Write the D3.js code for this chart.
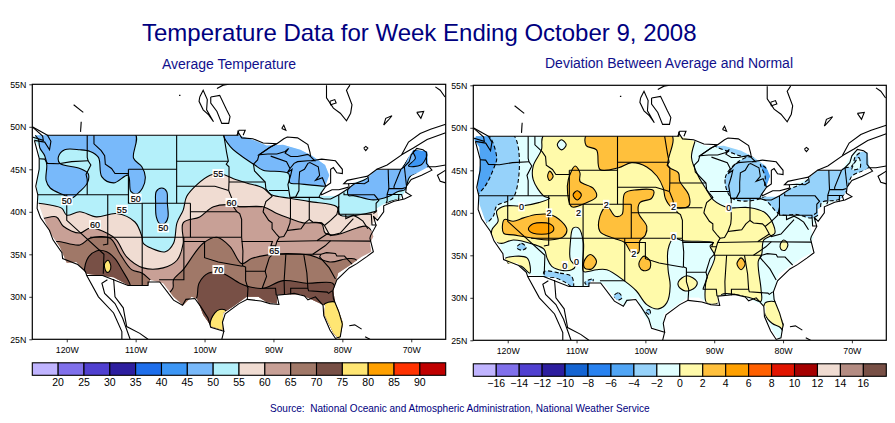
<!DOCTYPE html>
<html><head><meta charset="utf-8">
<script src="https://cdn.jsdelivr.net/npm/d3@7"></script>
<style>html,body{margin:0;padding:0;background:#fff}svg{display:block}text{font-family:"Liberation Sans",Arial,sans-serif}</style>
</head><body><svg id="c" width="895" height="423"></svg>
<script>
// ---------- axis / legend data
const lonTicks=[-120,-110,-100,-90,-80,-70];
const latTicks=[25,30,35,40,45,50,55];
const tempLevels=[20,25,30,35,40,45,50,55,60,65,70,75,80,85,90];
const tempColors=["#c0b4ff","#8070eb","#5040d0","#2d1e9f","#1e6eeb","#3c96f5","#78b9fa","#b4f0fa","#f0dcd2","#c8a096","#a07868","#785046","#ffe673","#ffa000","#ff3200","#c00000"];
const devLevels=[-16,-14,-12,-10,-8,-6,-4,-2,0,2,4,6,8,10,12,14,16];
const devColors=["#c0b4ff","#8070eb","#5040d0","#2d1e9f","#1464d2","#2882f0","#50a5f5","#96d2fa","#e1ffff","#fffaaa","#ffc03c","#ffa000","#ff6000","#e11400","#a50000","#f0dcd2","#b48c82","#785046"];
// ---------- geography (lon,lat)
const usMask=[[-124.6,49],[-122.6,49],[-95.1,49],[-92.7,48.4],[-91,47.8],[-88.6,47.9],[-86.1,47.3],[-84.4,46.6],[-82.5,45.5],[-81.9,44.3],[-82.5,43],[-83.2,41.9],[-80.6,41.9],[-79.1,42.8],[-78.4,43.4],[-76.2,44.1],[-75.2,44.9],[-71.5,45],[-69.7,47.3],[-67.7,47.1],[-67.5,45.3],[-70,44.2],[-71,42.2],[-71.6,41.6],[-74,40.9],[-75,40.4],[-74.8,39.4],[-76,38.3],[-75.5,37.1],[-76,36.3],[-75.8,35.3],[-77.2,34.7],[-78.9,33.7],[-80.6,32.8],[-81.3,30.8],[-81.1,29.4],[-80.6,28.5],[-79.9,26.9],[-80.4,25],[-81.3,25.7],[-82,26.9],[-82.6,27.9],[-82.5,29],[-83.2,29.2],[-86.1,30.3],[-89.5,30.3],[-89.5,29.2],[-91,29.4],[-92.2,30],[-93.9,30],[-95.8,28.9],[-97.3,28.1],[-97.4,26.1],[-99,26.5],[-100.2,27.9],[-101.1,29.8],[-101.9,30],[-103.1,29],[-104.5,30],[-106,31.6],[-107.9,32],[-108.2,31.4],[-111.1,31.4],[-113.2,32.3],[-117.1,32.7],[-118.6,34.1],[-120,34],[-121,35.9],[-122.4,37.5],[-123.4,39.4],[-124.1,41],[-124.4,43.4],[-124,45.7],[-124.1,47.7],[-124.85,48.6]];
const usCoast=[[-124.7,48.4],[-123.2,48.2],[-122.5,47.3],[-122.3,48.3],[-122.8,49],[-95.15,49],[-95.15,49.4],[-94.6,48.7],[-93,48.6],[-91.5,48.1],[-89.6,48],[-90.5,47.6],[-92.1,46.7],[-90.8,46.8],[-89.5,46.8],[-88.3,47.1],[-87.8,47.45],[-88.3,46.9],[-87.5,46.5],[-86.5,46.5],[-85,46.75],[-84.6,46.5],[-84,46],[-85,46],[-86.5,45.9],[-87,45.7],[-87.6,45.1],[-88,44.6],[-87.3,45],[-87.5,44.3],[-87.9,43.2],[-87.6,41.7],[-86.8,41.7],[-86.3,42.5],[-86.3,43.6],[-86.2,44.7],[-85.5,45],[-85,45.7],[-84.7,45.8],[-83.5,45.3],[-83.3,44.3],[-83.9,43.7],[-82.9,44],[-82.4,43],[-83.1,42.2],[-83.4,41.7],[-82.7,41.5],[-81.7,41.5],[-80.5,42],[-79,42.8],[-79.1,43.3],[-78,43.35],[-76.8,43.3],[-76.2,43.6],[-76.3,44.2],[-75,45],[-71.5,45],[-71,45.3],[-70.3,45.9],[-70,46.7],[-69.2,47.45],[-68.3,47.3],[-67.8,47],[-67.8,45.7],[-67,44.9],[-68.5,44.3],[-70,43.8],[-70.7,43],[-70.8,42.3],[-70,41.9],[-71,41.5],[-72.5,41.25],[-74,40.7],[-74,40],[-74.9,39],[-75.5,39.5],[-75.1,38.4],[-75.9,37.2],[-76,36.9],[-75.5,35.3],[-76.5,34.7],[-77.9,33.9],[-79,33.4],[-80.8,32],[-81.4,30.7],[-81.3,29.8],[-80.5,28.2],[-80,26.8],[-80.3,25.3],[-81,25.1],[-81.8,26.1],[-82.7,27.8],[-82.8,29],[-83.9,30],[-85,29.65],[-85.5,30.1],[-87,30.4],[-88,30.3],[-89.5,30.2],[-89.2,29.1],[-90.5,29.2],[-91.8,29.5],[-93.8,29.7],[-95,29.2],[-97,28],[-97.4,27],[-97.2,25.95],[-99.1,26.4],[-99.5,27.5],[-100.6,28.9],[-101.4,29.8],[-102.7,29.7],[-103.2,29],[-104.5,29.6],[-106.5,31.75],[-108.2,31.75],[-108.2,31.33],[-111.1,31.33],[-114.8,32.5],[-117.1,32.5],[-117.3,33],[-118.4,33.8],[-120.6,34.5],[-120.7,35.2],[-122,36.7],[-122.5,37.8],[-123.8,39.3],[-124.3,40.4],[-124.2,42],[-124.5,43],[-124,45],[-124,46.3],[-124.7,48.4]];
const otherCoast=[
[[-92.1,46.7],[-90.5,47.6],[-89.5,48],[-88.5,48.6],[-88,48.8],[-86.5,48.7],[-85,47.9],[-84.7,47],[-84.6,46.5]],
[[-82.4,43],[-81.7,43.4],[-81.7,45],[-81.3,45.2],[-80.8,44.6],[-80,44.5],[-80,45],[-81,46],[-83,46.2],[-84.5,46]],
[[-83.1,42.2],[-83,42],[-81.5,42.6],[-80.5,42.6],[-79.1,42.9]],
[[-79.1,43.3],[-79.8,43.3],[-79.3,43.7],[-77.5,44],[-76.3,44.2]],
[[-75,45],[-73.5,45.5],[-71.4,46.7],[-70.4,48.2],[-68.7,49.2],[-67.2,49.7],[-65,50.3]],
[[-71.4,46.7],[-69.7,47.5],[-67.7,48.5],[-65,49.3]],
[[-67.7,45.3],[-66.5,45.3],[-65,45.5]],[[-65,44.9],[-66.2,44.3],[-65.8,43.6],[-65,43.4]],
[[-125,48.8],[-123.4,48.4],[-123.5,48.9],[-125,50]],[[-122.8,49],[-123.9,49.5],[-125,50]],
[[-119,52.6],[-117.6,51.7]],[[-117.9,50.6],[-118,49.4]],[[-103.7,53.7],[-103.5,53.7]],
[[-99.1,53.5],[-97.8,53.7],[-96.8,52],[-96.3,51.2],[-96.5,50.4],[-97.5,50.4],[-98.2,51.8],[-99.1,52.8],[-99.1,53.5]],
[[-100.7,53.5],[-100.2,54.3],[-99.6,53.2],[-99.7,52],[-98.7,50.6],[-99.4,51.4],[-100.2,52],[-100.8,53],[-100.7,53.5]],
[[-98.2,54.5],[-97.3,54.9],[-96.5,55]],
[[-82.3,54.9],[-82.3,53.4],[-81.3,52.2],[-80.3,51.6],[-79.4,50.7],[-78.8,51.6],[-78.6,52.6],[-79.4,54.3],[-78.9,54.9]],
[[-81.8,53],[-81.1,53.2],[-80.9,52.8],[-81.7,52.6],[-81.8,53]],
[[-88.8,49.8],[-88.5,50.2],[-88.2,49.6],[-88.8,49.8]],
[[-95.3,49],[-95,49.6],[-94.1,49.6],[-94.4,49]],
[[-76.9,47.5],[-76.6,47.7],[-76.3,47.5],[-76.6,47.2],[-76.9,47.5]],
[[-74,50.2],[-73.7,51],[-72.8,51.3],[-73.3,50.8],[-74,50.2]],
[[-69.2,51.7],[-68.2,51.8],[-68.6,51],[-69.2,51.7]],
[[-66.5,54.7],[-65.8,54.3],[-65.1,53.5]],
[[-117.1,32.5],[-115.4,30],[-113.2,28.1],[-112,25.9],[-112,25]],
[[-114.1,32],[-114.9,31.6],[-114.5,30.4],[-113,29.2],[-111.9,27.5],[-110.8,25]],
[[-113.2,32.1],[-113,30],[-111.8,28.7],[-111.3,26.5],[-109.4,25.7],[-108.2,25]],
[[-97.2,25.95],[-97.5,25]],[[-79,26.6],[-78.2,26.7],[-77.2,26.2]],[[-76.7,25.3],[-76,25]]
];
const stateLines=[
[[-124,46.25],[-123.2,46.2],[-122.8,45.7],[-121.2,45.65],[-119.3,45.9],[-116.9,46]],
[[-117.03,49],[-117.03,46.4],[-116.9,46],[-116.5,45.5],[-117.2,44.4],[-117.03,43.8],[-117.03,42]],
[[-124.2,42],[-111.05,42]],[[-120,42],[-120,39],[-114.6,35],[-114.7,32.7]],
[[-114.05,42],[-114.05,36.2],[-114.75,36.1]],
[[-116.05,49],[-116.05,48],[-115,47.2],[-114.5,46.6],[-114.4,45.6],[-113.5,45.1],[-113,44.5],[-111.05,44.5]],
[[-111.05,45],[-104.05,45]],[[-111.05,45],[-111.05,41],[-102.05,41]],[[-109.05,41],[-109.05,31.33]],
[[-116.6,37],[-94.62,37]],[[-104.05,49],[-104.05,41]],[[-104.05,45.95],[-96.55,45.95]],
[[-104.05,43],[-98.5,43],[-96.5,42.5]],[[-102.05,41],[-102.05,37]],[[-102.05,40],[-95.3,40]],
[[-103,37],[-103,32],[-106.6,32]],[[-103,36.5],[-100,36.5],[-100,34.6],[-98,34.1],[-96,33.8],[-94.5,33.6]],
[[-94.62,37],[-94.43,35.4],[-94.48,33.64],[-94.04,33.5],[-94.04,31.9],[-93.7,31],[-93.8,29.7]],
[[-94.04,33],[-91.15,33]],
[[-96.5,42.5],[-96,41.5],[-95.8,40.6],[-95.3,40],[-94.9,39.8],[-94.62,39.1],[-94.62,37]],
[[-97.2,49],[-96.8,47],[-96.55,45.95],[-96.85,45.6],[-96.45,45.3],[-96.45,43.5],[-96.5,42.5]],
[[-96.45,43.5],[-91.2,43.5]],[[-95.8,40.6],[-91.7,40.6]],
[[-92.1,46.7],[-92.3,46.1],[-92.9,45.6],[-92.75,44.8],[-91.2,43.5],[-91.1,42.7],[-90.2,41.8],[-91.1,41.2],[-91.4,40.4],[-91.5,40],[-90.7,39],[-90.2,38.7],[-90.2,38],[-89.5,37.3],[-89.15,37],[-89.5,36.5],[-90,35.1],[-90.6,34.6],[-91.1,33.3],[-91.2,33],[-91,32.4],[-91.6,31.1],[-91.6,31],[-89.7,31],[-89.6,30.2]],
[[-90.65,42.5],[-87.8,42.5]],[[-90.4,46.55],[-88.1,45.9],[-87.6,45.1]],
[[-87.53,41.7],[-87.53,39.3],[-87.6,38.7],[-88,37.8]],
[[-89.15,37],[-88.5,37.1],[-88,37.8],[-87,37.9],[-86,38],[-85.4,38.7],[-84.8,39.1],[-84.3,38.8],[-83,38.7],[-82.6,38.4],[-81.7,39],[-80.8,39.7],[-80.52,40.64],[-80.52,42]],
[[-84.8,39.1],[-84.8,41.7]],[[-87.2,41.7],[-83.4,41.7]],
[[-79.76,42.27],[-79.76,42],[-75.35,42],[-74.7,41.35],[-75.1,41],[-75.1,40],[-75.5,39.8]],
[[-80.52,40.64],[-80.52,39.72],[-75.8,39.72],[-75.7,38.45],[-75.05,38.45]],
[[-79.5,39.72],[-79.5,39.2],[-78.4,39.6],[-77.7,39.3],[-77,38.9],[-76.3,38]],
[[-82.6,38.4],[-82,37.5],[-81.7,37.2],[-80.3,37.5],[-79.3,38.4],[-78.4,39.2]],
[[-82,37.5],[-83.7,36.6]],[[-83.7,36.6],[-75.9,36.55]],[[-94.62,36.5],[-90.15,36.5],[-90.37,36],[-89.7,36]],
[[-89.5,36.5],[-83.7,36.6]],[[-81.7,36.6],[-82.5,36],[-84.3,35]],[[-90,35],[-83.1,35]],
[[-88.2,35],[-88.45,31.9],[-88.4,30.3]],[[-85.6,35],[-85.15,32.8],[-85,31],[-84.9,30.7],[-82.2,30.55],[-82,30.4],[-81.5,30.7]],
[[-87.5,30.3],[-87.5,31],[-85,31]],
[[-83.1,35],[-83.3,34.7],[-81.9,33.4],[-81,32.1]],[[-83.1,35],[-82.3,35.2],[-81,35.1],[-80.8,34.8],[-79.7,34.8],[-78.6,33.85]],
[[-73.35,45],[-73.3,43.6],[-73.25,42.75],[-73.5,42.05],[-73.5,41.3],[-73.65,41]],
[[-73.25,42.73],[-71.3,42.73],[-70.8,42.85]],[[-73.5,42.03],[-71.4,42.03],[-71.2,41.5]],[[-71.8,42],[-71.85,41.3]],
[[-71.5,45],[-72.5,43],[-72.5,42.73]],[[-71,45.3],[-70.7,43.1]]
];
// ---------- left panel: average temperature regions (level index into tempColors)
const t45West=[[-124.6,49.2],[-110.1,49.2],[-110.3,46.3],[-109.1,45.3],[-108.6,44.1],[-109,42.8],[-109.9,42.1],[-110.7,42.4],[-111.1,44.3],[-113.2,43.4],[-114.9,44.1],[-115.4,46.4],[-116.6,47.1],[-118.1,47.3],[-120.3,47.3],[-121.2,46.5],[-121,45.7],[-118.1,45.1],[-116.9,44.5],[-117,43.4],[-118.1,42.4],[-119.3,41.6],[-120.5,42],[-122.4,42.8],[-123,43.7],[-122.9,45.5],[-123.2,46.6],[-123.9,47.5],[-124.1,48.5]];
const t45Colo=[[-106.2,42.8],[-105.5,42.4],[-105.4,41],[-105.3,39.4],[-105.7,38.7],[-106.5,38.6],[-107,39.4],[-107.1,41],[-107,42.4]];
const t45North=[[-97.2,49.3],[-81.3,49.2],[-81.3,43],[-82.5,43],[-86.4,43.3],[-87.6,43.4],[-87.8,44.5],[-91.5,44.9],[-92.7,45.5],[-96.3,47.7]];
const t45East=[[-79.1,41.9],[-79.2,42.6],[-78.4,43.2],[-76.5,43.9],[-75.3,45.1],[-71.4,45.2],[-69.7,47.5],[-67.3,47.3],[-67.3,45.1],[-70.2,44.1],[-70.9,42.6],[-71.9,42.4],[-73.3,41.8],[-75.5,41.4],[-78.4,41.9]];
const t40Maine=[[-69.7,47.1],[-67.5,47.3],[-67.7,46.6],[-68.6,45.5],[-70.4,45.4],[-69.4,46.3]];
const t55South=[[-124.9,41],[-124.1,41],[-122.4,40.8],[-120.7,40.4],[-120,39.6],[-118.1,40],[-115.7,39.4],[-112.8,39.8],[-110.1,38.8],[-109.1,37.1],[-108.9,36.3],[-107.7,35.7],[-105.7,35.3],[-104.5,36.3],[-104,38.7],[-103.1,40.2],[-102.6,41.8],[-101.1,43.2],[-99.2,44.3],[-97.8,44.5],[-95.8,43.9],[-93.9,43.4],[-91.5,42.8],[-90.3,42],[-87.6,41.6],[-84.7,41.2],[-80.8,40.6],[-80.3,39.6],[-76.5,39.8],[-74.3,40.4],[-73.1,41.2],[-66.8,41.2],[-66.8,24],[-126,24],[-126,41]];
const t60South=[[-123.6,39.2],[-121.5,39.4],[-120.5,38.3],[-118.1,37.5],[-116.6,38.1],[-114.2,37.5],[-112.8,36.7],[-111.3,34.7],[-108.9,33.4],[-106,33.4],[-104,34.3],[-103.1,36.3],[-103.1,38.7],[-100.7,39.4],[-98.7,40.6],[-95.8,40.8],[-94.9,40.6],[-91.5,40.6],[-89.5,39.8],[-87.6,39.2],[-85.7,38.7],[-83,38.6],[-82.5,37.5],[-80.8,37.3],[-77.9,38.1],[-76.5,38.3],[-75.3,37.5],[-74,37.5],[-74,24],[-126,24],[-126,39.2]];
const t65South=[[-122,36.5],[-121.1,36.5],[-118.1,36.1],[-116.6,36.9],[-113.7,36.9],[-112.3,35.1],[-110.6,33.2],[-109.1,32.8],[-107.9,32],[-105.5,30.4],[-104.6,31],[-104.5,32],[-103.1,33.2],[-100.2,36.3],[-98.2,37],[-96.3,35.9],[-94.6,33.9],[-93.2,34.5],[-91,34.9],[-88.1,35.1],[-84.7,34.9],[-81.8,34.1],[-79.1,34.5],[-77.9,34.3],[-77,24],[-126,24],[-126,36.5]];
const t70Desert=[[-117.2,32.4],[-117.1,34.3],[-115.7,35.4],[-114.2,35.3],[-113,34.5],[-112,33.2],[-110.8,31.2],[-113.2,31.6]];
const t70Gulf=[[-101.6,29.2],[-101.1,30],[-100.8,31.6],[-99.4,32.8],[-97.5,32.8],[-94.9,31.6],[-93.6,31.2],[-91.5,31],[-88.6,31.9],[-85.2,31.6],[-81.4,31.6],[-81,30.8],[-81,29.2],[-80,29.2],[-80,24],[-101.6,24]];
const t75Florida=[[-82.8,29],[-81.1,29.4],[-79.4,28.1],[-78.9,24.9],[-81.8,24.9],[-83,27.7]];
const t75Texas=[[-98.5,28.1],[-97.8,28.5],[-96.8,28.3],[-96.8,25.7],[-98.7,25.7],[-99.2,26.7]];
const t75Arizona=[[-114.5,33.9],[-114,34.3],[-113.6,33.6],[-113.8,33],[-114.2,32.9],[-114.5,33.4]];
const tempRegions=[
 {level:6,ring:t45West},{level:6,ring:t45Colo},{level:6,ring:t45North},{level:6,ring:t45East},{level:5,ring:t40Maine},
 {level:8,ring:t55South},{level:9,ring:t60South},{level:10,ring:t65South},{level:11,ring:t70Desert},{level:11,ring:t70Gulf},
 {level:12,ring:t75Florida},{level:12,ring:t75Texas},{level:12,ring:t75Arizona}];
const tempLabels=[["55",-98,44.5],["60",-96.1,41.1],["50",-120,41.3],["50",-110,41.6],["55",-112,40.3],["60",-115.9,38.5],["50",-106,38.1],["65",-89.9,35.4],["70",-98,33.2]];
// ---------- right panel: deviation regions
const d0Main=[[-114.7,49.2],[-92.5,49.2],[-92.8,48.4],[-93.3,46.5],[-92.3,44.3],[-91.1,42.7],[-90.1,41.5],[-87.9,40.6],[-86.7,40.6],[-84.8,40.6],[-82.6,40],[-81.4,38.6],[-81.2,37.6],[-82.8,36.8],[-83.1,35.1],[-83.6,34.3],[-83.2,31],[-83.2,29.6],[-84.8,30],[-88.9,30.4],[-89.4,29.4],[-91.1,29.4],[-91.3,31.2],[-91.1,32.3],[-89.9,34.9],[-90.6,36.1],[-90.1,36.5],[-94.5,36.7],[-95.9,37],[-96.7,35.7],[-96.7,33.3],[-96.4,31.4],[-96.9,29.4],[-98.1,28.7],[-99.8,29.2],[-101.3,30.8],[-102.9,31.9],[-105.6,33.3],[-107.1,33.3],[-108.3,33.1],[-109,33.1],[-109,36.5],[-109.7,38.2],[-110.5,38.2],[-110.9,36.5],[-110.9,34.5],[-110.2,33.7],[-110.7,33.3],[-111.9,33.2],[-113.6,33.7],[-114.3,34.7],[-114.7,35.7],[-116.3,36.3],[-119.2,36.8],[-120.9,36.4],[-122.1,36.8],[-122.3,38],[-121.4,39],[-121.6,40.2],[-120.4,40.8],[-118,40.8],[-115.5,41.2],[-113.9,41.7],[-114.8,42],[-116.3,43.9],[-116.3,45.5],[-115.1,47.4]];
const d0Florida=[[-82.6,29.4],[-80.7,29.4],[-79.9,26.7],[-79.8,25.9],[-80.4,26.5],[-81.6,27],[-82.6,28]];
const d0Carolina=[[-80.4,36.3],[-79.9,36.8],[-79.3,36.3],[-79.7,35.6],[-80.3,35.7]];
const d0Ark=[[-95.2,31.9],[-94,32.6],[-92.5,31.9],[-92.8,31.2],[-94.2,30.8],[-95.2,31.4]];
const d0Calif=[[-120.4,34.6],[-117.2,34.7],[-116.8,32.9],[-118,33.7],[-119.9,34]];
const dm2Idaho=[[-112.8,48],[-112.2,48.6],[-111.5,48],[-112.2,47.4]];
const d2Plains=[[-96.2,49.2],[-96.7,45.5],[-95.2,44.7],[-95,43.7],[-93.7,42.1],[-93.7,40.8],[-96.2,40.7],[-97.1,41.7],[-97.4,42.9],[-98.3,44.3],[-99.8,45.4],[-102,45.9],[-103.9,45.3],[-106.6,45.1],[-107.1,47.4],[-108.6,47.9],[-108.5,49.2]];
const d2Wyoming=[[-110.2,45.5],[-109.5,44.7],[-109.5,43.7],[-107.6,42.9],[-107.1,41.9],[-108.5,41.2],[-110.7,40.7],[-111.3,42.3],[-111.2,43.9]];
const d4Wyoming=[[-110.5,42.1],[-109.9,42.6],[-109.3,42.1],[-109.9,41.5]];
const d2Idaho=[[-114.2,44.3],[-113.9,44.9],[-113.4,44.3],[-113.9,43.8]];
const d2Nevada=[[-120.5,39.2],[-119.2,39],[-117.7,39.4],[-115.8,39.8],[-113.9,39.8],[-112.2,39],[-111.4,38],[-111.9,37.2],[-113.9,36.8],[-116.3,37],[-119.2,37.4],[-120.6,37.6]];
const d4Nevada=[[-117,38.1],[-116.3,38.7],[-113.9,38.7],[-113.3,38.1],[-113.9,37.6],[-116.3,37.6]];
const d2Kansas=[[-103,42.3],[-101.3,42.7],[-98.8,42.6],[-99.1,41.7],[-100.8,41.2],[-101,40],[-99.8,38.4],[-100,37.4],[-100.8,36.7],[-101,35.3],[-102,35.3],[-103,36.5],[-104.6,37],[-106.6,37.8],[-106.6,39.6],[-105.6,40.8],[-104.4,39.6],[-103.4,39.8]];
const d2NewMexico=[[-108.9,34.3],[-108,35.1],[-107.1,34.3],[-107.8,33.4],[-108.8,33.5]];
const d2Oklahoma=[[-100.9,34.2],[-100.2,34.9],[-99.3,34.3],[-99.4,33.4],[-100.3,33.2],[-100.9,33.7]];
const d2Alabama=[[-86.7,34],[-86.1,34.7],[-85.5,34],[-86.1,33.3]];
const dm4West=[[-124.8,49.2],[-119.2,49.2],[-119.1,41.9],[-121.6,40.8],[-122.1,39.6],[-123.3,38.8],[-124.5,40.3],[-125,42]];
const dm6West=[[-124.8,49.2],[-122.9,49.2],[-121.6,46.5],[-121.9,45.5],[-123.5,42.9],[-125,42]];
const dm4Superior=[[-89.9,47.9],[-88.2,48.1],[-84.1,46.5],[-86.2,46.7],[-87.6,47.1]];
const dm4Michigan=[[-87.4,41.7],[-88.4,44.1],[-86.7,45.9],[-84.5,46.6],[-81.5,45.1],[-81.3,43.1],[-83.1,41.7]];
const dm6Michigan=[[-83.3,45.7],[-81.9,44.7],[-81.9,43.1],[-82.6,43.1],[-82.6,44.3]];
const dm4East=[[-83.1,41.7],[-79.4,42.7],[-76.7,43.7],[-75.1,45.1],[-70,45.5],[-69.5,46.6],[-67.8,47.4],[-67.2,45.5],[-70,44.3],[-70.7,42.7],[-71.7,41.6],[-74.4,41.2],[-74.6,40],[-75.8,39.4],[-78,39.8],[-80.4,39.8],[-82.4,41.4]];
const dm2Maine=[[-70,45.1],[-69,46.5],[-68.8,45.3]];
const dm4SoCal=[[-118.7,35.9],[-118,36.4],[-117.3,35.9],[-118,35.6]];
const dm4BigBend=[[-104.6,30.2],[-103.9,30.6],[-103.4,30],[-104.2,29.7]];
const dm4Arizona=[[-114.7,33.1],[-112.4,32.9],[-110.7,32.5],[-110.5,31.2],[-111.4,31.7],[-112.9,32.3],[-114.7,32.5]];
const dm4Bootheel=[[-108.8,31.8],[-107.6,32.2],[-108,31.3]];
const dm4Texas=[[-100,28.4],[-99.4,28.6],[-99.3,28]];
const devRegions=[
 {level:9,ring:d0Main},{level:9,ring:d0Florida},{level:9,ring:d0Carolina},{level:9,ring:d0Ark},{level:9,ring:d0Calif},{level:8,ring:dm2Idaho},
 {level:10,ring:d2Plains},{level:10,ring:d2Wyoming},{level:11,ring:d4Wyoming},{level:10,ring:d2Idaho},{level:10,ring:d2Nevada},{level:11,ring:d4Nevada},{level:10,ring:d2Kansas},{level:10,ring:d2NewMexico},{level:10,ring:d2Oklahoma},{level:10,ring:d2Alabama},
 {level:7,ring:dm4West,neg:1},{level:6,ring:dm6West,neg:1},{level:7,ring:dm4Superior,neg:1},{level:7,ring:dm4Michigan,neg:1},{level:6,ring:dm6Michigan,neg:1},{level:7,ring:dm4East,neg:1},{level:8,ring:dm2Maine,neg:1},{level:7,ring:dm4SoCal,neg:1},{level:7,ring:dm4BigBend,neg:1},{level:7,ring:dm4Arizona,neg:1},{level:7,ring:dm4Bootheel,neg:1},{level:7,ring:dm4Texas,neg:1}];
const devLabels=[["0",-118,40.7],["2",-114,40],["2",-109.7,40],["2",-105.7,41],["2",-101.7,35.2],["0",-111.7,33.8],["0",-110,34.2],["2",-95.9,40.7],["0",-95.9,37.2],["0",-87.9,40.6]];
// ---------- text
const titleText="Temperature Data for Week Ending October 9, 2008";
const leftTitle="Average Temperature";
const rightTitle="Deviation Between Average and Normal";
const sourceText="Source:  National Oceanic and Atmospheric Administration, National Weather Service";

const svg=d3.select("#c");
const navy="#000080";
svg.append("text").attr("x",142).attr("y",41).attr("font-size",24).attr("fill",navy).text(titleText);
svg.append("text").attr("x",162).attr("y",69).attr("font-size",14).attr("fill","#10108c").text(leftTitle);
svg.append("text").attr("x",545).attr("y",68).attr("font-size",14).attr("fill","#10108c").text(rightTitle);
svg.append("text").attr("x",270).attr("y",412).attr("font-size",10.05).attr("fill",navy).style("white-space","pre").text(sourceText);

function panel(id,box,baseColor,colors,regions,labels,levels,barY){
  const x=d3.scaleLinear().domain([-125,-65]).range([box.l,box.r]);
  const y=d3.scaleLinear().domain([25,55]).range([box.b,box.t]);
  const g=svg.append("g");
  const defs=svg.append("defs");
  const mk=d3.line().x(d=>x(d[0])).y(d=>y(d[1]));
  const smooth=d3.line().x(d=>x(d[0])).y(d=>y(d[1])).curve(d3.curveCatmullRomClosed.alpha(0.5));
  defs.append("clipPath").attr("id",id+"m").append("path").attr("d",mk(usMask)+"Z");
  defs.append("clipPath").attr("id",id+"f").append("rect").attr("x",box.l).attr("y",box.t).attr("width",box.r-box.l).attr("height",box.b-box.t);
  g.append("rect").attr("x",box.l).attr("y",box.t).attr("width",box.r-box.l).attr("height",box.b-box.t).attr("fill","#fff");
  const fills=g.append("g").attr("clip-path",`url(#${id}m)`);
  fills.append("path").attr("d",mk(usMask)+"Z").attr("fill",baseColor);
  fills.selectAll("path.r").data(regions).join("path").attr("class","r")
    .attr("d",d=>smooth(d.ring)).attr("fill",d=>colors[d.level]).attr("stroke","#000").attr("stroke-width",1.1)
    .attr("stroke-dasharray",d=>d.neg?"4 2.5":null);
  const map=g.append("g").attr("clip-path",`url(#${id}f)`).attr("fill","none").attr("stroke","#000").attr("stroke-width",1.1);
  map.selectAll("path.s").data(stateLines).join("path").attr("class","s").attr("d",mk);
  map.append("path").attr("d",mk(usCoast));
  map.selectAll("path.c").data(otherCoast).join("path").attr("class","c").attr("d",mk);
  const lb=g.append("g").selectAll("g").data(labels).join("g").attr("transform",d=>`translate(${x(d[1])},${y(d[2])})`);
  lb.append("rect").attr("x",d=>-d[0].length*2.7-0.5).attr("y",-4.5).attr("width",d=>d[0].length*5.4+1).attr("height",9).attr("fill","#fff");
  lb.append("text").attr("text-anchor","middle").attr("y",3.3).attr("font-size",9).attr("fill","#000").attr("stroke","#000").attr("stroke-width",0.2).text(d=>d[0]);
  g.append("rect").attr("x",box.l).attr("y",box.t).attr("width",box.r-box.l).attr("height",box.b-box.t).attr("fill","none").attr("stroke","#000").attr("stroke-width",1.2);
  const ax=g.append("g").attr("transform",`translate(0,${box.b})`).call(d3.axisBottom(x).tickValues(lonTicks).tickSize(3).tickFormat(d=>Math.abs(d)+"W"));
  const ay=g.append("g").attr("transform",`translate(${box.l},0)`).call(d3.axisLeft(y).tickValues(latTicks).tickSize(3).tickFormat(d=>d+"N"));
  [ax,ay].forEach(a=>{a.select(".domain").remove();a.selectAll("text").attr("font-size",8.8).attr("font-family","Liberation Sans").attr("fill","#000");a.selectAll("line").attr("stroke-width",0.8);});
  ax.selectAll("text").attr("dy","0.95em").attr("y",5);
  ay.selectAll("text").attr("x",-6);
  // colour bar
  const idx=d3.range(colors.length);
  const bx=d3.scaleBand().domain(idx).range([box.l,box.r]);
  const bar=g.append("g");
  bar.selectAll("rect").data(idx).join("rect").attr("x",d=>bx(d)).attr("y",barY).attr("width",bx.bandwidth()).attr("height",12.5)
    .attr("fill",d=>colors[d]).attr("stroke","#000").attr("stroke-width",1.1);
  bar.selectAll("text").data(levels).join("text").attr("x",(d,i)=>bx(i+1)).attr("y",barY+23).attr("text-anchor","middle")
    .attr("font-size",10.5).attr("fill","#000").text(d=>d<0?"\u2212"+(-d):d);
}
panel("L",{l:32.3,r:445.7,t:84.3,b:339.3},tempColors[7],tempColors,tempRegions,tempLabels,tempLevels,362.8);
panel("R",{l:473.3,r:886.3,t:85.3,b:340.3},devColors[8],devColors,devRegions,devLabels,devLevels,363.8);
</script></body></html>
